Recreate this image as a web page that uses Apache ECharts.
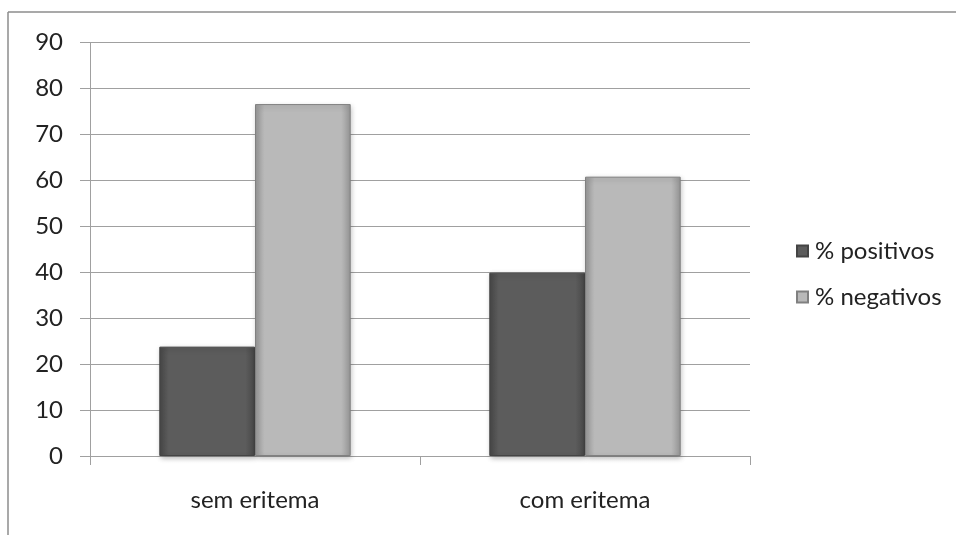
<!DOCTYPE html>
<html>
<head>
<meta charset="utf-8">
<script src="https://cdn.jsdelivr.net/npm/echarts@6/dist/echarts.min.js"></script>
<style>
  html, body { margin: 0; padding: 0; background: #fff; }
  #chart { width: 956px; height: 535px; }
</style>
</head>
<body>
<div id="chart"></div>
<script>
// Categories and values (percent)
const categories = ['sem eritema', 'com eritema'];
const positivos = [23.8, 39.9];
const negativos = [76.6, 60.8];
const seriesNames = ['% positivos', '% negativos'];

const FONT = 'Lato, "Open Sans", sans-serif';

// Bevelled-look fill: darker at the sides, lighter in the middle
function bevel(edge, mid) {
  return new echarts.graphic.LinearGradient(0, 0, 1, 0, [
    { offset: 0, color: edge },
    { offset: 0.1, color: mid },
    { offset: 0.9, color: mid },
    { offset: 1, color: edge }
  ]);
}

const chart = echarts.init(document.getElementById('chart'), null, { renderer: 'canvas' });

chart.setOption({
  animation: false,
  backgroundColor: '#ffffff',
  graphic: [
    // outer chart frame (top and left edges)
    { type: 'line', shape: { x1: 8, y1: 12, x2: 956, y2: 12 }, style: { stroke: '#8c8c8c', lineWidth: 1.5 } },
    { type: 'line', shape: { x1: 8, y1: 12, x2: 8, y2: 535 }, style: { stroke: '#8c8c8c', lineWidth: 1.5 } }
  ],
  grid: { left: 90, right: 206, top: 42.5, bottom: 79, containLabel: false },
  legend: {
    orient: 'vertical',
    left: 791,
    top: 234,
    itemWidth: 11,
    itemHeight: 11,
    itemGap: 22,
    icon: 'rect',
    textStyle: { fontFamily: FONT, fontSize: 24, color: '#222', padding: [0, 0, 0, 2] },
    data: seriesNames
  },
  xAxis: {
    type: 'category',
    data: categories,
    boundaryGap: true,
    axisLine: { lineStyle: { color: '#a0a0a0', width: 1 } },
    axisTick: { show: true, length: 9, alignWithLabel: false, lineStyle: { color: '#a0a0a0' } },
    axisLabel: { fontFamily: FONT, fontSize: 24, color: '#222', margin: 32 }
  },
  yAxis: {
    type: 'value',
    min: 0,
    max: 90,
    interval: 10,
    axisLine: { show: true, lineStyle: { color: '#a0a0a0', width: 1 } },
    axisTick: { show: true, inside: false, length: 10, lineStyle: { color: '#a0a0a0' } },
    axisLabel: { fontFamily: FONT, fontSize: 24, color: '#222', margin: 27 },
    splitLine: { lineStyle: { color: '#a0a0a0', width: 1 } }
  },
  series: [
    {
      name: seriesNames[0],
      type: 'bar',
      data: positivos,
      barGap: '0%',
      barCategoryGap: '42%',
      itemStyle: {
        color: bevel('#474747', '#5c5c5c'),
        borderColor: '#444',
        borderWidth: 1,
        shadowColor: 'rgba(0,0,0,0.25)',
        shadowBlur: 5,
        shadowOffsetX: 1,
        shadowOffsetY: 2
      }
    },
    {
      name: seriesNames[1],
      type: 'bar',
      data: negativos,
      itemStyle: {
        color: bevel('#969696', '#b9b9b9'),
        borderColor: '#808080',
        borderWidth: 1,
        shadowColor: 'rgba(0,0,0,0.25)',
        shadowBlur: 5,
        shadowOffsetX: 1,
        shadowOffsetY: 2
      }
    }
  ]
});
</script>
</body>
</html>
